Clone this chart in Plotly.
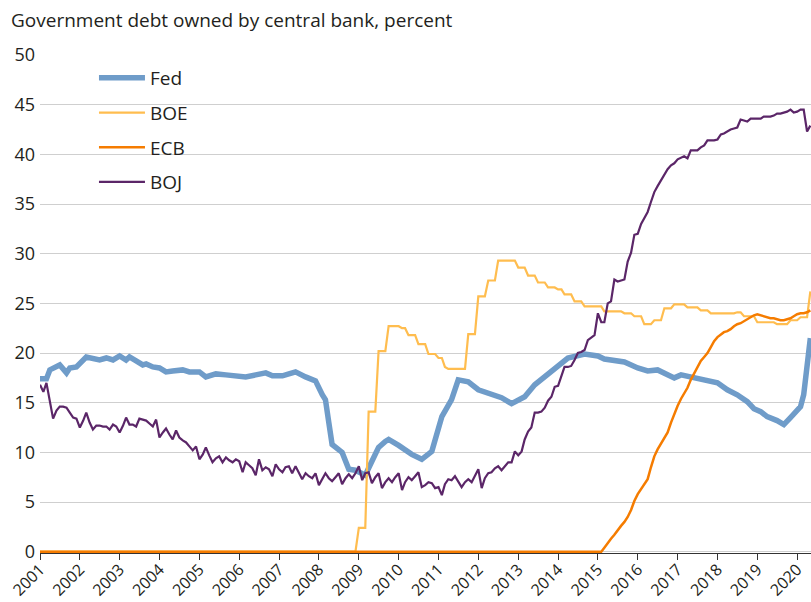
import plotly.graph_objects as go

# ---------------- data ----------------
years = list(range(2001, 2021))
tick_vals = [f"{y}-01-01" for y in years]
tick_text = [str(y) for y in years]

fed_dates = ["2001-01", "2001-03", "2001-04", "2001-07", "2001-09", "2001-10", "2001-12",
             "2002-01", "2002-03", "2002-07", "2002-09", "2002-11",
             "2003-01", "2003-03", "2003-04", "2003-06", "2003-08", "2003-09", "2003-11",
             "2004-01", "2004-03", "2004-05", "2004-08", "2004-10",
             "2005-01", "2005-03", "2005-06", "2005-09", "2005-11",
             "2006-03", "2006-06", "2006-09", "2006-11",
             "2007-02", "2007-04", "2007-06", "2007-09", "2007-12",
             "2008-02", "2008-03", "2008-04", "2008-05", "2008-08", "2008-10", "2008-12",
             "2009-03", "2009-05", "2009-07", "2009-09", "2009-10",
             "2010-01", "2010-05", "2010-08", "2010-11",
             "2011-02", "2011-05", "2011-07", "2011-10",
             "2012-01", "2012-04", "2012-08", "2012-11",
             "2013-03", "2013-06", "2013-09",
             "2014-01", "2014-04", "2014-09",
             "2015-01", "2015-03", "2015-09",
             "2016-01", "2016-04", "2016-07", "2016-10", "2016-12",
             "2017-02", "2017-07", "2017-10",
             "2018-01", "2018-04", "2018-07", "2018-10", "2018-12",
             "2019-02", "2019-04", "2019-07", "2019-09", "2019-11",
             "2020-02", "2020-03", "2020-04", "2020-05"]
fed_values = [17.4, 17.4, 18.3, 18.8, 18.0, 18.5, 18.6,
              19.0, 19.6, 19.3, 19.5, 19.3,
              19.7, 19.3, 19.6, 19.2, 18.8, 18.9, 18.6,
              18.5, 18.1, 18.2, 18.3, 18.1,
              18.1, 17.6, 17.9, 17.8, 17.7,
              17.6, 17.8, 18.0, 17.7,
              17.7, 17.9, 18.1, 17.6, 17.2,
              15.8, 15.3, 13.0, 10.8, 10.0, 8.3, 8.2,
              7.7, 9.1, 10.5, 11.1, 11.3,
              10.7, 9.8, 9.3, 10.1,
              13.6, 15.3, 17.3, 17.1,
              16.3, 16.0, 15.5, 14.9,
              15.6, 16.8, 17.6,
              18.8, 19.5, 19.9,
              19.7, 19.4, 19.1,
              18.5, 18.2, 18.3, 17.9, 17.5,
              17.8, 17.5, 17.3,
              17.0, 16.3, 15.8, 15.1, 14.4,
              14.1, 13.6, 13.2, 12.8, 13.5,
              14.6, 15.8, 19.0, 21.5]

boe_dates = ["2001-01", "2008-12", "2009-01", "2009-03", "2009-04", "2009-06", "2009-07", "2009-09",
             "2009-10", "2010-01", "2010-02", "2010-03", "2010-04", "2010-06", "2010-07", "2010-09",
             "2010-10", "2010-12", "2011-01", "2011-02", "2011-03", "2011-04", "2011-09", "2011-10",
             "2011-12", "2012-01", "2012-03", "2012-04", "2012-06", "2012-07", "2012-12", "2013-01",
             "2013-03", "2013-04", "2013-06", "2013-07", "2013-09", "2013-10", "2013-12", "2014-01",
             "2014-02", "2014-03", "2014-05", "2014-06", "2014-08", "2014-09", "2015-02", "2015-03",
             "2015-08", "2015-09", "2015-11", "2015-12", "2016-02", "2016-03", "2016-05", "2016-06",
             "2016-08", "2016-09", "2016-11", "2016-12", "2017-03", "2017-04", "2017-07", "2017-08",
             "2017-10", "2017-11", "2018-06", "2018-07", "2018-08", "2018-09", "2018-12", "2019-01",
             "2019-06", "2019-07", "2019-10", "2019-11", "2020-01", "2020-02", "2020-04", "2020-05"]
boe_values = [0, 0, 2.4, 2.4, 14.1, 14.1, 20.2, 20.2,
              22.7, 22.7, 22.5, 22.5, 21.8, 21.8, 20.9, 20.9,
              19.9, 19.9, 19.5, 19.5, 18.6, 18.4, 18.4, 21.9,
              21.9, 25.7, 25.7, 27.3, 27.3, 29.3, 29.3, 28.6,
              28.6, 27.8, 27.8, 27.1, 27.1, 26.6, 26.6, 26.4,
              26.4, 25.9, 25.9, 25.2, 25.2, 24.7, 24.7, 24.2,
              24.2, 24.0, 24.0, 23.7, 23.7, 22.9, 22.9, 23.3,
              23.3, 24.5, 24.5, 24.9, 24.9, 24.6, 24.6, 24.3,
              24.3, 24.0, 24.0, 24.1, 24.1, 23.7, 23.7, 23.1,
              23.1, 22.9, 22.9, 23.3, 23.3, 23.6, 23.6, 26.2]

ecb_dates = ["2001-01", "2015-02", "2015-03", "2015-04", "2015-05", "2015-06", "2015-07", "2015-08",
             "2015-09", "2015-10", "2015-11", "2015-12",
             "2016-01", "2016-02", "2016-03", "2016-04", "2016-05", "2016-06", "2016-07", "2016-08",
             "2016-09", "2016-10", "2016-11", "2016-12",
             "2017-01", "2017-02", "2017-03", "2017-04", "2017-05", "2017-06", "2017-07", "2017-08",
             "2017-09", "2017-10", "2017-11", "2017-12",
             "2018-01", "2018-02", "2018-03", "2018-04", "2018-05", "2018-06", "2018-07", "2018-08",
             "2018-09", "2018-10", "2018-11", "2018-12",
             "2019-01", "2019-02", "2019-03", "2019-04", "2019-05", "2019-06", "2019-07", "2019-08",
             "2019-09", "2019-10", "2019-11", "2019-12",
             "2020-01", "2020-02", "2020-03", "2020-04", "2020-05"]
ecb_values = [0, 0, 0.4, 0.9, 1.3, 1.7, 2.2, 2.6,
              3.0, 3.5, 4.2, 5.1,
              5.8, 6.3, 6.8, 7.3, 8.5, 9.6, 10.3, 10.9,
              11.5, 12.0, 13.0, 13.9,
              14.7, 15.4, 15.9, 16.5, 17.3, 17.9, 18.6, 19.2,
              19.6, 20.0, 20.6, 21.2,
              21.6, 21.9, 22.1, 22.2, 22.4, 22.7, 22.9, 23.0,
              23.2, 23.4, 23.6, 23.8,
              23.9, 23.8, 23.7, 23.6, 23.5, 23.5, 23.4, 23.3,
              23.3, 23.4, 23.5, 23.7,
              23.9, 24.0, 24.0, 24.1, 24.3]

boj_values = [16.8, 16.1, 17.0, 15.0, 13.4, 14.2, 14.6, 14.6, 14.5, 14.0, 13.5, 13.4,   # 2001
              12.5, 13.2, 14.0, 13.0, 12.3, 12.7, 12.7, 12.6, 12.6, 12.3, 12.8, 12.6,   # 2002
              12.0, 12.7, 13.5, 12.8, 12.8, 12.6, 13.4, 13.3, 13.2, 12.9, 12.6, 13.3,   # 2003
              11.5, 12.0, 12.4, 11.8, 11.3, 12.2, 11.5, 11.2, 11.0, 10.6, 10.2, 10.6,   # 2004
              9.3, 9.8, 10.5, 9.7, 9.0, 9.4, 9.6, 9.0, 9.5, 9.2, 9.0, 9.3,             # 2005
              9.1, 8.0, 9.0, 8.7, 8.4, 7.7, 9.3, 8.2, 8.5, 8.3, 7.6, 8.8,              # 2006
              8.3, 8.0, 8.5, 8.6, 7.9, 8.6, 8.0, 7.3, 7.9, 7.6, 7.4, 7.9,              # 2007
              6.7, 7.3, 7.9, 7.4, 7.1, 7.5, 7.9, 6.8, 7.4, 7.8, 7.4, 7.9,              # 2008
              8.6, 7.2, 7.9, 8.0, 6.9, 7.5, 7.9, 6.4, 7.0, 7.4, 7.0, 7.5,              # 2009
              7.9, 6.2, 7.0, 7.5, 7.2, 7.6, 8.0, 6.5, 6.7, 7.0, 6.9, 6.4,              # 2010
              6.5, 5.7, 6.8, 7.3, 7.2, 7.6, 7.0, 6.5, 7.0, 7.3, 7.0, 7.6,              # 2011
              8.3, 6.4, 7.4, 7.9, 8.0, 8.4, 8.6, 8.2, 8.6, 9.0, 9.0, 10.1,             # 2012
              9.7, 10.1, 11.3, 12.1, 12.5, 14.0, 14.0, 14.1, 14.5, 15.2, 15.6, 16.6,   # 2013
              16.7, 17.6, 18.6, 18.6, 18.7, 19.3, 20.0, 20.1, 20.3, 21.3, 21.6, 21.8,  # 2014
              24.0, 23.1, 23.1, 25.0, 25.2, 27.4, 27.2, 27.3, 27.4, 29.2, 30.1, 31.9,  # 2015
              32.0, 33.0, 33.6, 34.2, 35.2, 36.2, 36.8, 37.4, 38.0, 38.5, 38.9, 39.1,  # 2016
              39.5, 39.7, 39.8, 39.6, 40.4, 40.4, 40.4, 40.7, 40.9, 41.4, 41.4, 41.4,  # 2017
              41.5, 42.0, 42.1, 42.3, 42.5, 42.6, 42.7, 43.5, 43.4, 43.3, 43.6, 43.6,  # 2018
              43.6, 43.6, 43.8, 43.8, 43.8, 43.9, 44.1, 44.1, 44.2, 44.3, 44.5, 44.2,  # 2019
              44.3, 44.5, 44.5, 42.3, 42.9]                                            # 2020
boj_dates = [f"{2001 + i // 12}-{i % 12 + 1:02d}" for i in range(len(boj_values))]

# ---------------- styling ----------------
FONT = "Open Sans"
TEXT = "#231f20"
series = [
    ("Fed", fed_dates, fed_values, "#6f9cc9", 5.5),
    ("BOE", boe_dates, boe_values, "#ffbd4f", 2.2),
    ("ECB", ecb_dates, ecb_values, "#f57c00", 2.5),
    ("BOJ", boj_dates, boj_values, "#5b2668", 2.2),
]

fig = go.Figure()
for name, xs, ys, color, width in series:
    fig.add_trace(go.Scatter(
        x=xs, y=ys, mode="lines", name=name, legendgroup=name,
        line=dict(color=color, width=width),
    ))

fig.update_layout(
    width=811, height=602,
    margin=dict(l=40, r=0, t=55, b=49, autoexpand=False),
    paper_bgcolor="white", plot_bgcolor="white",
    font=dict(family=FONT, size=18, color=TEXT),
    title=dict(text="Government debt owned by central bank, percent",
               x=11 / 811, xanchor="left", xref="container",
               y=1 - 20 / 602, yanchor="middle", yref="container",
               font=dict(family=FONT, size=19, color=TEXT)),
    showlegend=True,
    legend=dict(x=0.07, xanchor="left", y=0.992, yanchor="top",
                bgcolor="rgba(0,0,0,0)", font=dict(size=19, color=TEXT),
                tracegroupgap=7, itemwidth=46, traceorder="grouped"),
    xaxis=dict(type="date", range=["2001-01-01", "2020-05-07"],
               tickmode="array", tickvals=tick_vals, ticktext=tick_text,
               tickangle=-45, ticks="outside", ticklen=6, tickcolor="#333333",
               showline=True, linecolor="#333333", linewidth=1,
               showgrid=False, zeroline=False, layer="below traces",
               ticklabelstandoff=-6,
               tickfont=dict(size=16, color=TEXT)),
    yaxis=dict(range=[-0.13, 50], tickmode="linear", tick0=0, dtick=5,
               showgrid=True, gridcolor="#cfcfcf", gridwidth=1,
               zeroline=False, showline=False, ticks="", ticklabelstandoff=4,
               tickfont=dict(size=18, color=TEXT)),
)

fig.write_html("out.html", config={"displayModeBar": False},
               post_script="document.body.style.margin='0';")
